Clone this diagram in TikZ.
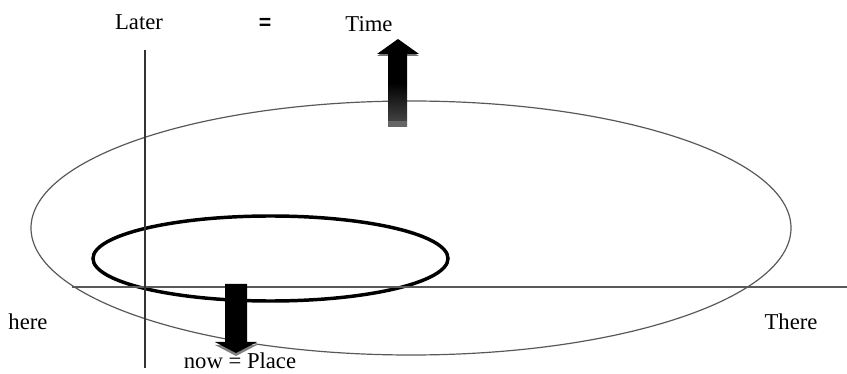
\documentclass[tikz,border=0pt]{standalone}
\usepackage{fontspec}
\setmainfont{Liberation Serif}
\setsansfont{Liberation Sans}
\begin{document}
\begin{tikzpicture}[x=0.75pt,y=-0.75pt,
  lbl/.style={inner sep=0pt,font=\fontsize{17}{20}\selectfont},
  thinline/.style={draw=black!65,line width=0.9pt}]
\useasboundingbox (0,0) rectangle (847,374);
% large ellipse
\draw[thinline] (411,228) ellipse [x radius=380, y radius=127];
% small thick ellipse
\draw[black,line width=2.6pt] (270.5,258.5) ellipse [x radius=177.5, y radius=42.5];
% axes
\coordinate (hl) at (72,287);
\coordinate (hr) at (847,287);
\draw[thinline] (hl) -- (hr);
\coordinate (vt) at (145,50);
\coordinate (vb) at (145,368);
\draw[draw=black!80,line width=0.9pt] (vt) -- (vb);
% up arrow
\fill[black!55] (377,56) -- (398,43) -- (419,56) -- cycle;
\shade[top color=black,bottom color=black!70,middle color=black] (388,127) -- (388,54) -- (377,54) -- (398,39) -- (419,54) -- (407,54) -- (407,127) -- cycle;
\fill[black!60] (388,121) rectangle (407,127);
% down arrow
\fill[black!50] (215,345) -- (236,356) -- (257,345) -- cycle;
\fill[black] (225,284) -- (247,284) -- (247,342) -- (257,342) -- (236,353) -- (215,342) -- (225,342) -- cycle;
% labels
\node[lbl] (later) at (139,22) {Later};
\node[inner sep=0pt,font=\sffamily\bfseries\fontsize{16}{18}\selectfont] (eq) at (265,24) {=};
\node[lbl] (time) at (369,24) {Time};
\node[lbl] (here) at (28,322) {here};
\node[lbl] (there) at (791,322) {There};
\node[lbl] (now) at (240,361) {now = Place};
\end{tikzpicture}
\end{document}
